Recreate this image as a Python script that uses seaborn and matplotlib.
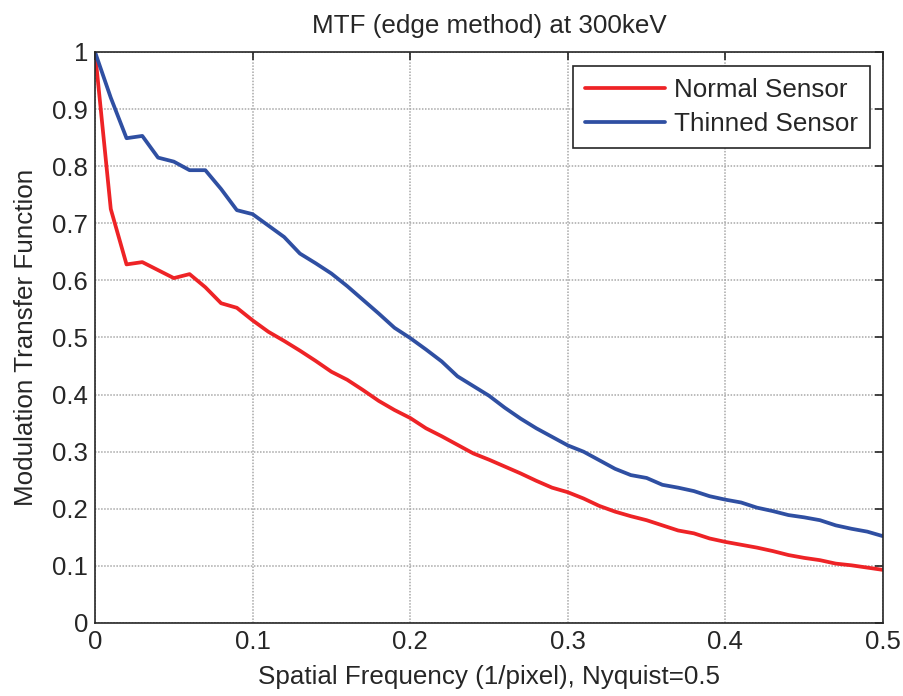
import numpy as np
import pandas as pd
from matplotlib import pyplot as plt
import seaborn as sns

# spatial frequency samples (1/pixel)
freq = [round(0.01 * i, 2) for i in range(51)]

# MTF values
mtf_normal = [1.000, 0.725, 0.628, 0.632, 0.618, 0.604, 0.611, 0.588, 0.560, 0.552,
              0.530, 0.510, 0.494, 0.477, 0.459, 0.440, 0.426, 0.408, 0.389, 0.373,
              0.359, 0.341, 0.327, 0.312, 0.297, 0.286, 0.274, 0.262, 0.249, 0.237,
              0.229, 0.218, 0.205, 0.195, 0.187, 0.180, 0.171, 0.162, 0.157, 0.148,
              0.142, 0.137, 0.132, 0.126, 0.119, 0.114, 0.110, 0.104, 0.101, 0.097,
              0.093]
mtf_thinned = [1.000, 0.920, 0.849, 0.853, 0.815, 0.808, 0.793, 0.793, 0.760, 0.723,
               0.716, 0.696, 0.676, 0.647, 0.630, 0.612, 0.590, 0.566, 0.542, 0.517,
               0.499, 0.479, 0.458, 0.432, 0.415, 0.398, 0.377, 0.358, 0.341, 0.326,
               0.311, 0.300, 0.285, 0.270, 0.259, 0.254, 0.242, 0.237, 0.231, 0.222,
               0.216, 0.211, 0.202, 0.196, 0.189, 0.185, 0.180, 0.171, 0.165, 0.160,
               0.152]

series_names = ["Normal Sensor", "Thinned Sensor"]
series_colors = ["#EE2326", "#2F4FA2"]

x_ticks = [0, 0.1, 0.2, 0.3, 0.4, 0.5]
x_tick_labels = ["0", "0.1", "0.2", "0.3", "0.4", "0.5"]
y_ticks = [round(0.1 * i, 1) for i in range(11)]
y_tick_labels = ["0", "0.1", "0.2", "0.3", "0.4", "0.5", "0.6", "0.7", "0.8", "0.9", "1"]

df = pd.DataFrame({
    "freq": freq + freq,
    "mtf": mtf_normal + mtf_thinned,
    "sensor": [series_names[0]] * len(freq) + [series_names[1]] * len(freq),
})

sns.set_style("white")
plt.rcParams["font.family"] = ["Liberation Sans", "DejaVu Sans"]

fig = plt.figure(figsize=(9.04, 6.96), dpi=100)
ax = fig.add_axes([0.1051, 0.1049, 0.8717, 0.8204])

sns.lineplot(data=df, x="freq", y="mtf", hue="sensor",
             palette=series_colors, linewidth=2.7, ax=ax)

ax.set_xlim(0, 0.5)
ax.set_ylim(0, 1)
ax.set_xticks(x_ticks)
ax.set_xticklabels(x_tick_labels)
ax.set_yticks(y_ticks)
ax.set_yticklabels(y_tick_labels)

ax.grid(True, color="#A8A8A8", linestyle=(0, (1, 1)), linewidth=1.1)
ax.set_axisbelow(True)

for s in ax.spines.values():
    s.set_color("#262626")
    s.set_linewidth(1.2)

ax.tick_params(direction="in", length=6, width=1.2, color="#262626",
               top=True, right=True, labelsize=18.5, labelcolor="#262626", pad=5)

ax.set_title("MTF (edge method) at 300keV", fontsize=18.7, color="#262626", pad=14)
ax.set_xlabel("Spatial Frequency (1/pixel), Nyquist=0.5", fontsize=18.7,
              color="#262626", labelpad=8)
ax.set_ylabel("Modulation Transfer Function", fontsize=18.7,
              color="#262626", labelpad=10)

leg = ax.legend(loc="upper right", bbox_to_anchor=(0.9835, 0.9755),
                borderaxespad=0, fontsize=18.7, handlelength=3.1,
                handletextpad=0.35, labelspacing=0.4, borderpad=0.45,
                fancybox=False, framealpha=1, edgecolor="#262626")
leg.get_frame().set_linewidth(1.2)
for t in leg.get_texts():
    t.set_color("#262626")

fig.savefig("out.png", dpi=100)
